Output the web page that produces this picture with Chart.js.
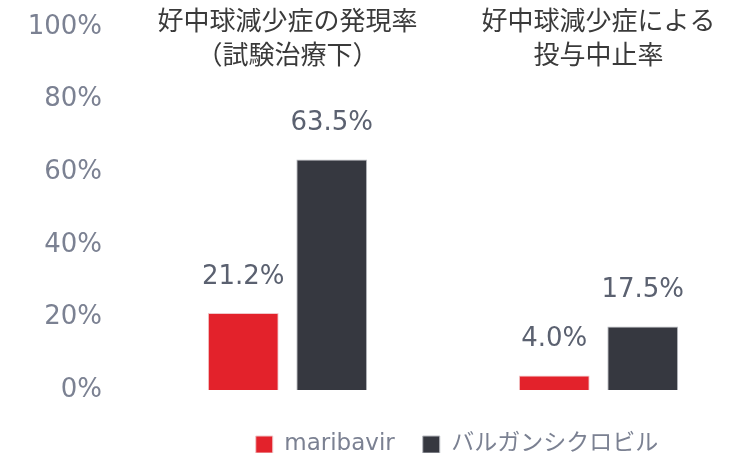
<!DOCTYPE html>
<html>
<head>
<meta charset="utf-8">
<script src="https://cdn.jsdelivr.net/npm/chart.js@4"></script>
<style>
  html, body { margin: 0; padding: 0; background: #fff; }
  #wrap { width: 734px; height: 453px; }
</style>
</head>
<body>
<div id="wrap"><canvas id="chart"></canvas></div>
<script>
// data
var categories = [
    ['好中球減少症の発現率', '（試験治療下）'],
    ['好中球減少症による', '投与中止率']
];
var seriesNames = ['maribavir', 'バルガンシクロビル'];
var maribavir = [21.2, 4.0];
var valganciclovir = [63.5, 17.5];
var yTicks = [0, 20, 40, 60, 80, 100];

var FONT = '"DejaVu Sans", "Noto Sans CJK JP", sans-serif';

// value labels + category titles, placed with the chart's own scales
var textPlugin = {
    id: 'textPlugin',
    afterLayout: function(chart){
        // the category axis runs a bit past the right edge in the original
        var xs = chart.scales.x;
        xs.right = xs.left + 622;
        xs.width = 622;
        xs.configure();
        // legend sits lower and right of centre
        var lg = chart.legend;
        lg.top += 15; lg.bottom += 15;
        lg.left += 76; lg.right += 76;
    },
    afterDatasetsDraw: function(chart) {
        var ctx = chart.ctx;
        ctx.save();
        ctx.textAlign = 'center';
        ctx.textBaseline = 'middle';

        ctx.font = '26px ' + FONT;
        ctx.fillStyle = '#5b6170';
        chart.data.datasets.forEach(function(ds, i){
            chart.getDatasetMeta(i).data.forEach(function(bar, j){
                ctx.fillText(ds.data[j].toFixed(1) + '%', bar.x, bar.y - 36);
            });
        });

        ctx.fillStyle = '#3a3a3a';
        var xs = chart.scales.x;
        categories.forEach(function(lines, j){
            var x = xs.getPixelForValue(j);
            lines.forEach(function(t, k){
                ctx.fillText(t, x, 23 + k * 34);
            });
        });
        ctx.restore();
    }
};

new Chart(document.getElementById('chart'), {
    type: 'bar',
    data: {
        labels: categories,
        datasets: [
            {
                label: seriesNames[0],
                data: maribavir,
                backgroundColor: '#e3222b',
                borderColor: '#f0c8ca',
                borderWidth: 1,
                barPercentage: 0.8,
                categoryPercentage: 0.569
            },
            {
                label: seriesNames[1],
                data: valganciclovir,
                backgroundColor: '#363840',
                borderColor: '#b8bac0',
                borderWidth: 1,
                barPercentage: 0.8,
                categoryPercentage: 0.569
            }
        ]
    },
    options: {
        responsive: true,
        maintainAspectRatio: false,
        animation: false,
        layout: {
            padding: { left: 28, right: 0, top: 27, bottom: 2 }
        },
        scales: {
            x: {
                display: false
            },
            y: {
                min: 0,
                max: 100,
                afterBuildTicks: function(axis){
                    axis.ticks = yTicks.map(function(v){ return { value: v }; });
                },
                afterFit: function(axis){
                    axis.width = 104;
                    axis.paddingTop = 0;
                    axis.paddingBottom = 0;
                },
                grid: { display: false, drawTicks: false },
                border: { display: false },
                ticks: {
                    padding: 30,
                    color: '#7b8192',
                    font: { size: 26, family: FONT },
                    callback: function(v){ return v + '%'; }
                }
            }
        },
        plugins: {
            legend: {
                position: 'bottom',
                labels: {
                    boxWidth: 17,
                    boxHeight: 17,
                    padding: 28,
                    color: '#7b8192',
                    font: { size: 23, family: FONT }
                }
            },
            tooltip: { enabled: false }
        }
    },
    plugins: [textPlugin]
});
</script>
</body>
</html>
